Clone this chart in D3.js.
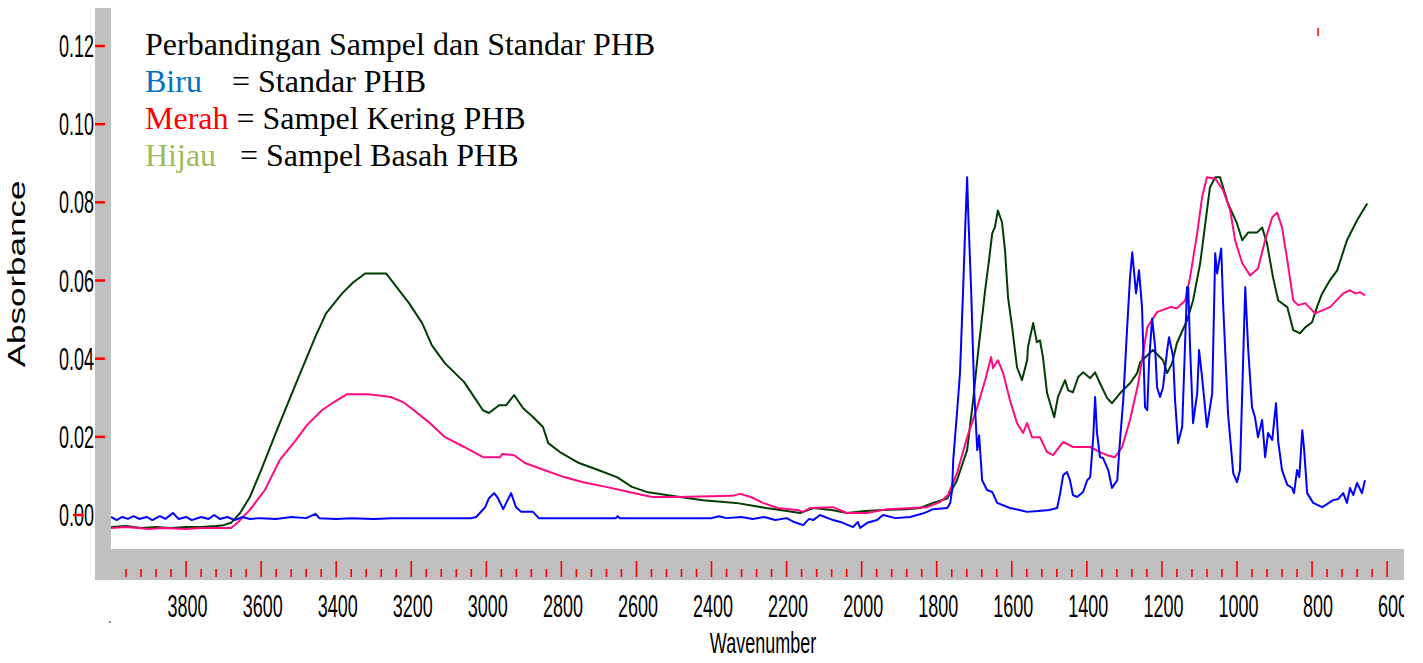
<!DOCTYPE html>
<html>
<head>
<meta charset="utf-8">
<script src="https://cdn.jsdelivr.net/npm/d3@7"></script>
<style>
  html, body { margin: 0; padding: 0; background: #fff; }
  svg { display: block; }
</style>
</head>
<body>
<div id="chart"></div>
<script>
// ---- data (wavenumber cm-1, absorbance) --------------------------------
var xTicksMajor = [3800, 3600, 3400, 3200, 3000, 2800, 2600, 2400, 2200, 2000, 1800, 1600, 1400, 1200, 1000, 800, 600];
var yTicks = [0.00, 0.02, 0.04, 0.06, 0.08, 0.10, 0.12];
var yTickLabels = ["0.00", "0.02", "0.04", "0.06", "0.08", "0.10", "0.12"];

var legendLines = [
  { key: "", text: "Perbandingan Sampel dan Standar PHB" },
  { key: "Biru", color: "#0070C0", text: "= Standar PHB", at: 232 },
  { key: "Merah", color: "#FF0000", text: " = Sampel Kering PHB" },
  { key: "Hijau", color: "#9BBB59", text: "= Sampel Basah PHB", at: 240 }
];

// Hijau = Sampel Basah PHB
var basah = [[4000,-0.0031],[3960,-0.0028],[3920,-0.0033],[3880,-0.0031],[3840,-0.0033],[3800,-0.0031],[3760,-0.0031],[3720,-0.0028],[3700,-0.0026],[3680,-0.0020],[3656,0.0005],[3630,0.0046],[3600,0.0115],[3558,0.0217],[3507,0.0337],[3456,0.0455],[3427,0.0516],[3384,0.0567],[3355,0.0595],[3323,0.0618],[3267,0.0618],[3243,0.0588],[3206,0.0542],[3171,0.0491],[3145,0.0434],[3110,0.0388],[3059,0.0340],[3027,0.0294],[3009,0.0268],[2993,0.0261],[2966,0.0281],[2947,0.0281],[2926,0.0307],[2902,0.0273],[2875,0.0250],[2849,0.0225],[2835,0.0184],[2804,0.0161],[2753,0.0133],[2702,0.0115],[2652,0.0097],[2612,0.0072],[2569,0.0058],[2484,0.0046],[2423,0.0038],[2335,0.0031],[2255,0.0018],[2217,0.0013],[2164,0.0005],[2129,0.0018],[2080,0.0013],[2039,0.0005],[1990,0.0010],[1943,0.0013],[1880,0.0015],[1844,0.0018],[1810,0.0031],[1772,0.0042],[1746,0.0089],[1719,0.0166],[1703,0.0294],[1690,0.0414],[1671,0.0575],[1663,0.0634],[1652,0.0721],[1645,0.0736],[1637,0.0779],[1626,0.0749],[1618,0.0677],[1610,0.0557],[1599,0.0480],[1586,0.0378],[1573,0.0345],[1559,0.0396],[1557,0.0429],[1543,0.0491],[1533,0.0442],[1525,0.0447],[1517,0.0404],[1506,0.0312],[1487,0.0250],[1477,0.0302],[1458,0.0345],[1450,0.0319],[1437,0.0314],[1423,0.0353],[1410,0.0365],[1391,0.0350],[1378,0.0365],[1365,0.0337],[1346,0.0299],[1333,0.0286],[1311,0.0312],[1285,0.0337],[1266,0.0363],[1258,0.0391],[1224,0.0422],[1197,0.0396],[1186,0.0363],[1173,0.0388],[1160,0.0440],[1133,0.0498],[1117,0.0549],[1098,0.0644],[1080,0.0779],[1072,0.0838],[1058,0.0864],[1045,0.0864],[1024,0.0797],[1000,0.0746],[986,0.0703],[970,0.0723],[946,0.0723],[933,0.0736],[920,0.0695],[904,0.0608],[890,0.0549],[866,0.0532],[850,0.0473],[832,0.0465],[818,0.0480],[800,0.0493],[787,0.0532],[773,0.0567],[752,0.0601],[733,0.0626],[707,0.0703],[680,0.0754],[653,0.0797]];

// Merah = Sampel Kering PHB
var kering = [[4000,-0.0033],[3960,-0.0031],[3900,-0.0036],[3860,-0.0033],[3800,-0.0036],[3760,-0.0033],[3720,-0.0033],[3680,-0.0033],[3661,-0.0018],[3630,0.0013],[3590,0.0064],[3550,0.0141],[3507,0.0192],[3478,0.0230],[3438,0.0268],[3406,0.0289],[3371,0.0309],[3315,0.0309],[3254,0.0302],[3222,0.0289],[3193,0.0268],[3150,0.0235],[3110,0.0199],[3059,0.0174],[3009,0.0148],[2963,0.0148],[2958,0.0156],[2926,0.0153],[2897,0.0133],[2846,0.0115],[2793,0.0097],[2742,0.0084],[2681,0.0072],[2620,0.0059],[2558,0.0046],[2489,0.0046],[2345,0.0049],[2324,0.0054],[2295,0.0046],[2263,0.0031],[2223,0.0018],[2172,0.0013],[2156,0.0008],[2137,0.0018],[2076,0.0020],[2039,0.0005],[1986,0.0005],[1932,0.0015],[1826,0.0020],[1791,0.0033],[1770,0.0051],[1746,0.0107],[1719,0.0199],[1692,0.0276],[1671,0.0345],[1655,0.0404],[1650,0.0376],[1637,0.0396],[1623,0.0363],[1605,0.0294],[1586,0.0235],[1570,0.0210],[1559,0.0235],[1546,0.0199],[1525,0.0199],[1506,0.0161],[1490,0.0153],[1463,0.0187],[1437,0.0174],[1391,0.0174],[1365,0.0161],[1346,0.0153],[1325,0.0148],[1306,0.0174],[1285,0.0243],[1263,0.0337],[1239,0.0480],[1213,0.0519],[1178,0.0532],[1160,0.0529],[1138,0.0549],[1125,0.0608],[1106,0.0721],[1093,0.0813],[1080,0.0864],[1058,0.0861],[1037,0.0831],[1018,0.0779],[1005,0.0703],[986,0.0644],[965,0.0613],[944,0.0631],[925,0.0703],[906,0.0762],[893,0.0774],[880,0.0736],[866,0.0652],[850,0.0549],[837,0.0537],[818,0.0542],[792,0.0516],[752,0.0532],[717,0.0567],[699,0.0575],[685,0.0567],[672,0.0570],[659,0.0562]];

// Biru = Standar PHB
var standar = [[4000,-0.0005],[3985,-0.0013],[3970,-0.0005],[3955,-0.0010],[3940,-0.0003],[3925,-0.0010],[3905,-0.0005],[3890,-0.0013],[3870,-0.0003],[3855,-0.0010],[3835,0.0005],[3820,-0.0010],[3800,-0.0005],[3785,-0.0013],[3760,-0.0005],[3740,-0.0010],[3725,0.0000],[3710,-0.0010],[3690,-0.0005],[3670,-0.0013],[3650,-0.0005],[3630,-0.0010],[3600,-0.0008],[3560,-0.0010],[3520,-0.0005],[3480,-0.0008],[3455,0.0003],[3445,-0.0008],[3400,-0.0010],[3360,-0.0008],[3300,-0.0010],[3250,-0.0008],[3200,-0.0008],[3100,-0.0008],[3040,-0.0008],[3027,-0.0005],[3003,0.0020],[2993,0.0043],[2979,0.0056],[2969,0.0043],[2955,0.0015],[2934,0.0056],[2921,0.0020],[2907,0.0008],[2876,0.0008],[2860,-0.0008],[2800,-0.0008],[2655,-0.0008],[2650,-0.0003],[2645,-0.0008],[2500,-0.0008],[2400,-0.0008],[2380,-0.0003],[2360,-0.0008],[2320,-0.0005],[2290,-0.0010],[2260,-0.0005],[2230,-0.0013],[2200,-0.0008],[2180,-0.0018],[2156,-0.0026],[2140,-0.0010],[2129,-0.0013],[2111,0.0000],[2090,-0.0008],[2076,-0.0013],[2050,-0.0020],[2023,-0.0031],[2010,-0.0018],[2004,-0.0033],[1985,-0.0020],[1959,-0.0013],[1943,0.0000],[1910,-0.0008],[1871,-0.0005],[1840,0.0003],[1826,0.0008],[1810,0.0015],[1772,0.0018],[1764,0.0031],[1759,0.0064],[1756,0.0141],[1746,0.0261],[1738,0.0363],[1730,0.0567],[1724,0.0736],[1719,0.0864],[1716,0.0772],[1708,0.0567],[1700,0.0312],[1692,0.0166],[1687,0.0204],[1679,0.0089],[1666,0.0064],[1652,0.0059],[1639,0.0031],[1605,0.0018],[1580,0.0013],[1559,0.0008],[1530,0.0010],[1500,0.0013],[1479,0.0018],[1471,0.0056],[1463,0.0102],[1453,0.0110],[1445,0.0089],[1437,0.0051],[1426,0.0046],[1410,0.0059],[1399,0.0089],[1391,0.0097],[1383,0.0199],[1378,0.0302],[1373,0.0210],[1365,0.0148],[1357,0.0146],[1343,0.0115],[1333,0.0069],[1319,0.0089],[1311,0.0199],[1303,0.0294],[1293,0.0473],[1285,0.0608],[1279,0.0672],[1269,0.0567],[1261,0.0626],[1253,0.0532],[1245,0.0276],[1239,0.0268],[1234,0.0396],[1226,0.0503],[1218,0.0429],[1213,0.0327],[1205,0.0302],[1197,0.0327],[1186,0.0422],[1181,0.0455],[1170,0.0404],[1165,0.0294],[1157,0.0184],[1146,0.0225],[1141,0.0363],[1133,0.0583],[1130,0.0583],[1125,0.0429],[1117,0.0235],[1106,0.0312],[1101,0.0422],[1093,0.0353],[1080,0.0225],[1066,0.0312],[1058,0.0670],[1053,0.0618],[1042,0.0682],[1037,0.0542],[1024,0.0261],[1010,0.0107],[1000,0.0084],[992,0.0115],[978,0.0583],[970,0.0422],[960,0.0276],[952,0.0250],[944,0.0199],[933,0.0243],[925,0.0148],[917,0.0210],[906,0.0192],[896,0.0286],[890,0.0187],[880,0.0115],[866,0.0077],[853,0.0069],[848,0.0056],[840,0.0115],[834,0.0097],[826,0.0217],[821,0.0166],[813,0.0056],[797,0.0031],[773,0.0020],[760,0.0028],[744,0.0038],[730,0.0041],[717,0.0056],[707,0.0031],[699,0.0069],[690,0.0051],[680,0.0082],[667,0.0056],[659,0.0089]];

var series = [
  { name: "Hijau", data: basah, color: "#003d00" },
  { name: "Merah", data: kering, color: "#ff0a80" },
  { name: "Biru", data: standar, color: "#0000ff" }
];

// ---- layout -------------------------------------------------------------
var W = 1423, H = 663;
var frame = { left: 95, inner: 111, top: 8, right: 1404, plotBottom: 549, bottom: 580 };
var SQ = 0.58;   // tick labels are horizontally squeezed in the original
var axisFont = "'Liberation Sans', Arial, sans-serif";

var svg = d3.select("#chart").append("svg").attr("width", W).attr("height", H);

var x = d3.scaleLinear().domain([4000, 555]).range([frame.inner, frame.right]);
var y = d3.scaleLinear().domain([0, 0.12]).range([515, 46]);

// gray L-frame + white plot area
svg.append("rect").attr("x", frame.left).attr("y", frame.top)
  .attr("width", frame.right - frame.left).attr("height", frame.bottom - frame.top)
  .attr("fill", "#c0c0c0");
svg.append("rect").attr("x", frame.inner).attr("y", frame.top)
  .attr("width", frame.right - frame.inner).attr("height", frame.plotBottom - frame.top)
  .attr("fill", "#fff");

var defs = svg.append("defs");
defs.append("clipPath").attr("id", "plotclip").append("rect")
  .attr("x", frame.inner).attr("y", frame.top)
  .attr("width", frame.right - frame.inner).attr("height", frame.plotBottom - frame.top);
defs.append("clipPath").attr("id", "edgeclip").append("rect")
  .attr("x", 0).attr("y", 0).attr("width", frame.right).attr("height", H);

// ---- x ticks (red, inside the gray strip) ------------------------------
var minor = d3.range(3960, 599, -40);
var gx = svg.append("g");
gx.selectAll("line.minor").data(minor).enter().append("line")
  .attr("x1", function (d) { return x(d); }).attr("x2", function (d) { return x(d); })
  .attr("y1", function (d) { return d % 200 === 0 ? 561 : 569; }).attr("y2", 577)
  .attr("stroke", "#ff0000").attr("stroke-width", 1.6);

// labels drift a little right of their ticks toward the low-wavenumber end
function labelShift(d) { return d <= 800 ? 6 : 1.5; }
gx.append("g").attr("clip-path", "url(#edgeclip)")
  .selectAll("text").data(xTicksMajor).enter().append("text")
  .attr("transform", function (d) { return "translate(" + (x(d) + labelShift(d)) + ",617) scale(" + SQ + ",1)"; })
  .attr("text-anchor", "middle")
  .style("font-family", axisFont).style("font-size", "31px").attr("fill", "#000")
  .text(function (d) { return d; });

// ---- y ticks ------------------------------------------------------------
var gy = svg.append("g");
gy.selectAll("text").data(yTicks).enter().append("text")
  .attr("transform", function (d) { return "translate(94," + (y(d) + 11) + ") scale(" + SQ + ",1)"; })
  .attr("text-anchor", "end")
  .style("font-family", axisFont).style("font-size", "31px").attr("fill", "#000")
  .text(function (d, i) { return yTickLabels[i]; });
// the 0.00 tick sits over its label in the original
gy.selectAll("line").data(yTicks).enter().append("line")
  .attr("x1", function (d) { return d === 0 ? 73 : 95; })
  .attr("x2", function (d) { return d === 0 ? 83 : 105; })
  .attr("y1", function (d) { return y(d); }).attr("y2", function (d) { return y(d); })
  .attr("stroke", "#ff0000").attr("stroke-width", 2.5);

// ---- axis titles --------------------------------------------------------
svg.append("text")
  .attr("transform", "translate(25,274) rotate(-90) scale(1,0.66)")
  .attr("text-anchor", "middle")
  .style("font-family", axisFont).style("font-size", "35px").attr("fill", "#000")
  .text("Absorbance");
svg.append("text")
  .attr("transform", "translate(763,653) scale(0.6,1)")
  .attr("text-anchor", "middle")
  .style("font-family", axisFont).style("font-size", "30px").attr("fill", "#000")
  .text("Wavenumber");

// stray marks from the original export
svg.append("line").attr("x1", 1318).attr("x2", 1318).attr("y1", 28).attr("y2", 36)
  .attr("stroke", "#ff2020").attr("stroke-width", 1.8);
svg.append("rect").attr("x", 109).attr("y", 621).attr("width", 2).attr("height", 2).attr("fill", "#888");

// ---- spectra ------------------------------------------------------------
var line = d3.line()
  .x(function (d) { return x(d[0]); })
  .y(function (d) { return y(d[1]); });

var gl = svg.append("g").attr("clip-path", "url(#plotclip)");
series.forEach(function (s) {
  gl.append("path").datum(s.data)
    .attr("d", line)
    .attr("fill", "none")
    .attr("stroke", s.color)
    .attr("stroke-width", 2)
    .attr("stroke-linejoin", "round");
});

// ---- legend text block --------------------------------------------------
var serif = "'Liberation Serif', 'Times New Roman', serif";
var lg = svg.append("g").style("font-family", serif).style("font-size", "32px");
legendLines.forEach(function (l, i) {
  var t = lg.append("text").attr("x", 145).attr("y", 55 + i * 37).attr("fill", "#000");
  if (l.key) t.append("tspan").attr("fill", l.color).text(l.key);
  var rest = t.append("tspan").attr("fill", "#000").text(l.text);
  if (l.at) rest.attr("x", l.at);
});
</script>
</body>
</html>
